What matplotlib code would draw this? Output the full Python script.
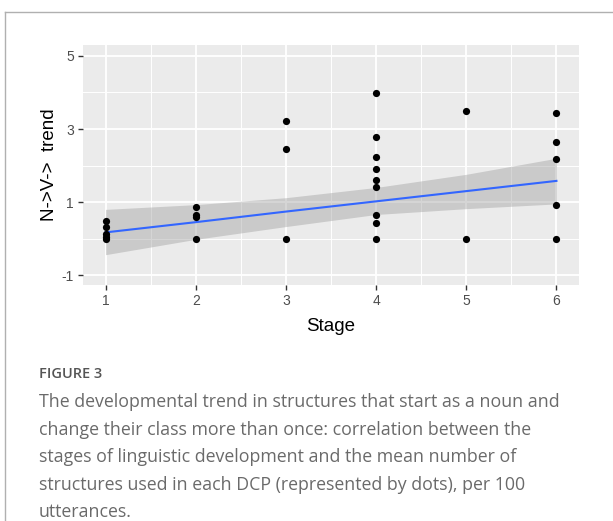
import numpy as np
import matplotlib
matplotlib.use("Agg")
import matplotlib.pyplot as plt
from matplotlib.lines import Line2D

plt.rcParams["axes.unicode_minus"] = False

# ---- data ----
stage = [1, 1, 1, 1, 1,
         2, 2, 2, 2,
         3, 3, 3,
         4, 4, 4, 4, 4, 4, 4, 4, 4,
         5, 5,
         6, 6, 6, 6, 6]
trend = [0.0, 0.05, 0.12, 0.33, 0.48,
         0.0, 0.58, 0.65, 0.87,
         0.0, 2.46, 3.22,
         0.0, 0.44, 0.64, 1.42, 1.60, 1.90, 2.24, 2.79, 3.98,
         0.0, 3.50,
         0.0, 0.92, 2.17, 2.64, 3.43]
# smooth line (lm) and its confidence band at each stage
fit_x = [1, 2, 3, 4, 5, 6]
fit_y = [0.17, 0.45, 0.74, 1.02, 1.30, 1.58]
band_hi = [0.80, 0.93, 1.12, 1.40, 1.76, 2.20]
band_lo = [-0.44, -0.02, 0.33, 0.66, 0.82, 0.95]
x_ticks = [1, 2, 3, 4, 5, 6]
y_ticks = [-1, 1, 3, 5]
x_label = "Stage"
y_label = "N->V->  trend"
fig_label = "FIGURE 3"
caption = ("The developmental trend in structures that start as a noun and\n"
           "change their class more than once: correlation between the\n"
           "stages of linguistic development and the mean number of\n"
           "structures used in each DCP (represented by dots), per 100\n"
           "utterances.")

W, H = 613, 521
fig = plt.figure(figsize=(W / 100, H / 100), dpi=100)
fig.patch.set_facecolor("white")

# outer frame lines (top and left)
fig.add_artist(Line2D([5 / W, 1.0], [1 - 12 / H, 1 - 12 / H], color="#b0b0b0", lw=1.0))
fig.add_artist(Line2D([5 / W, 5 / W], [0.0, 1 - 12 / H], color="#b0b0b0", lw=1.0))

ax = fig.add_axes([83 / W, 1 - 285 / H, (579 - 83) / W, (285 - 45) / H])
ax.set_facecolor("#EBEBEB")
for s in ax.spines.values():
    s.set_visible(False)

ax.fill_between(fit_x, band_lo, band_hi, color="#999999", alpha=0.4, lw=0, zorder=2)
ax.plot(fit_x, fit_y, color="#3366FF", lw=1.5, zorder=3)
ax.scatter(stage, trend, s=27, color="black", zorder=4, linewidths=0)

ax.set_xlim(0.75, 6.25)
ax.set_ylim(-1.27, 5.3)
ax.set_xticks(x_ticks)
ax.set_yticks(y_ticks)
ax.set_xticks([1.5, 2.5, 3.5, 4.5, 5.5], minor=True)
ax.set_yticks([0, 2, 4], minor=True)
ax.grid(which="major", color="white", lw=1.3, zorder=0)
ax.grid(which="minor", color="white", lw=0.7, zorder=0)
ax.set_axisbelow(True)

font = "Liberation Sans"
ax.tick_params(which="major", length=3.5, width=1, color="#333333",
               labelcolor="#4d4d4d", labelsize=10, pad=3)
ax.tick_params(which="minor", length=0)
for lab in ax.get_xticklabels() + ax.get_yticklabels():
    lab.set_fontfamily(font)

ax.set_xlabel(x_label, fontsize=13.5, family=font, color="black", labelpad=7)
ax.set_ylabel(y_label, fontsize=13.5, family=font, color="black", labelpad=3)

fig.text(39 / W, 1 - 374 / H, fig_label, fontsize=10.5, family="Open Sans",
         fontweight="semibold", color="#555555", va="center", ha="left")
fig.text(39 / W, 1 - 393 / H, caption, fontsize=12.8, family="Open Sans",
         color="#6a6a6a", va="top", ha="left", linespacing=1.68)

fig.savefig("out.png", dpi=100, facecolor="white")
